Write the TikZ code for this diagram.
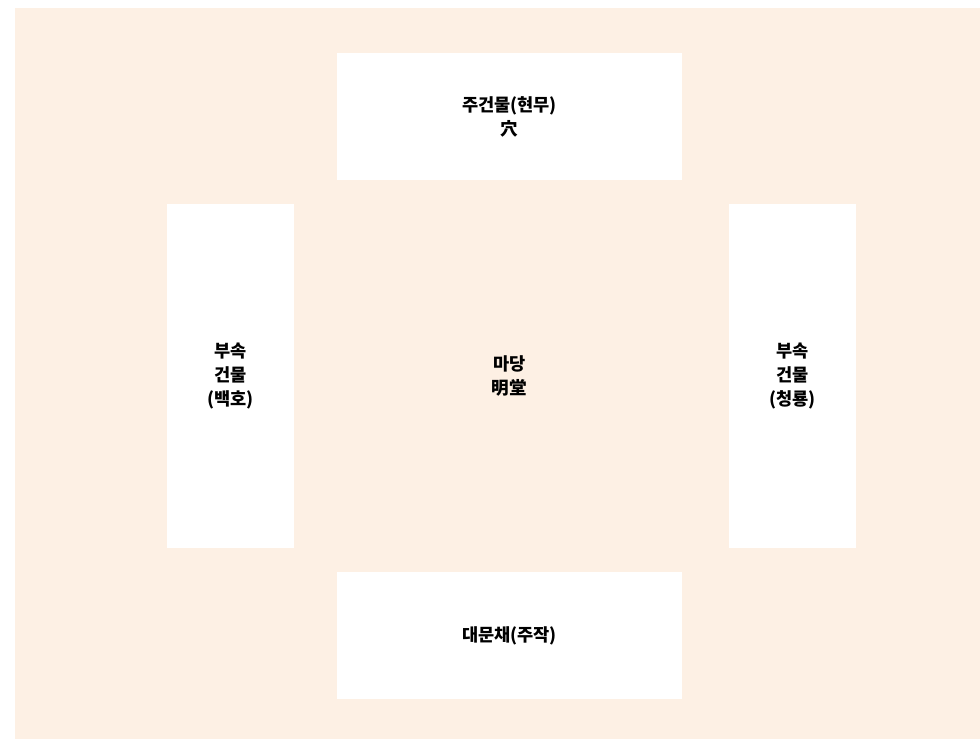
\documentclass[tikz,border=0pt]{standalone}
\usepackage{fontspec}
\setmainfont{Noto Sans CJK KR}
\usetikzlibrary{positioning}
\definecolor{yardbg}{HTML}{FDF0E4}

\begin{document}
\begin{tikzpicture}[
    x=0.025cm, y=-0.025cm,
    every node/.style={align=center, font=\fontsize{12.5}{17}\selectfont\bfseries},
    house/.style={rectangle, fill=white, inner sep=0pt},
    wide/.style={house, minimum width=345*0.025cm, minimum height=127*0.025cm},
    tall/.style={house, minimum width=127*0.025cm, minimum height=344*0.025cm}
]
\useasboundingbox (0,0) rectangle (980,739);
\fill[yardbg] (15,8) rectangle (980,739);

\node[wide] (main) at (509.5,116.5) {주건물(현무)\\穴};
\node[tall] (west) at (230.5,376) {부속\\건물\\(백호)};
\node[tall] (east) at (792.5,376) {부속\\건물\\(청룡)};
\node[wide] (gate) at (509.5,635.5) {대문채(주작)};
\node (yard) at (509.5,376) {마당\\明堂};
\end{tikzpicture}
\end{document}
